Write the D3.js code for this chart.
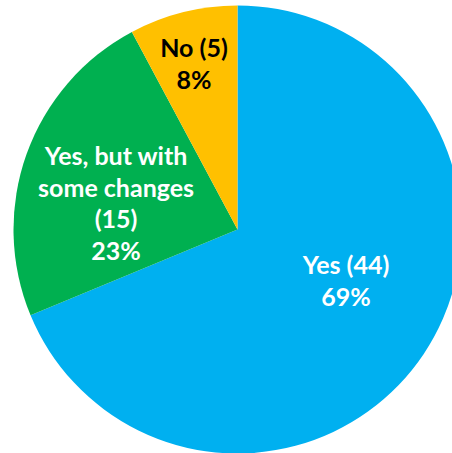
<!DOCTYPE html>
<html>
<head>
<meta charset="utf-8">
<script src="https://cdn.jsdelivr.net/npm/d3@7/dist/d3.min.js"></script>
<style>
  html, body { margin: 0; padding: 0; background: #ffffff; }
  svg { display: block; }
  text { font-family: "Lato", "Open Sans", "Liberation Sans", sans-serif; font-weight: 700; }
</style>
</head>
<body>
<svg id="chart" width="452" height="453"></svg>
<script>
// Survey responses
const categories = ["Yes", "Yes, but with some changes", "No"];
const counts = [44, 15, 5];
// How each category name is broken onto lines inside its slice
const nameLines = [["Yes"], ["Yes, but with", "some changes"], ["No"]];
const colors = ["#00B0F0", "#00B050", "#FFC000"];
const labelColors = ["#ffffff", "#ffffff", "#000000"];

// Label placement: angular shift (degrees) from slice middle, distance as fraction of radius
const labelShift = [-8.25, -7.8, -0.7];
const labelDist = [0.537, 0.554, 0.762];

const W = 452, H = 453;
const cx = 237.5, cy = 229.5, R = 224;
const fontSize = 25, lineH = 31.5;

const svg = d3.select("#chart");
const g = svg.append("g").attr("transform", `translate(${cx},${cy})`);

const total = d3.sum(counts);
const pie = d3.pie().sort(null).value(d => d.count).startAngle(0).endAngle(2 * Math.PI);
const data = categories.map((c, i) => ({ name: c, count: counts[i], i }));
const arcs = pie(data);
const arc = d3.arc().innerRadius(0).outerRadius(R);

g.selectAll("path.slice")
  .data(arcs)
  .join("path")
  .attr("class", "slice")
  .attr("d", arc)
  .attr("fill", d => colors[d.data.i]);

const labels = g.selectAll("text.label")
  .data(arcs)
  .join("text")
  .attr("class", "label")
  .attr("text-anchor", "middle")
  .attr("font-size", fontSize)
  .attr("fill", d => labelColors[d.data.i]);

labels.each(function(d) {
  const i = d.data.i;
  const mid = (d.startAngle + d.endAngle) / 2 + labelShift[i] * Math.PI / 180;
  const r = labelDist[i] * R;
  const x = r * Math.sin(mid);
  const y = -r * Math.cos(mid);
  const lines = nameLines[i].slice();
  const countText = `(${d.data.count})`;
  if (lines.length > 1) lines.push(countText);
  else lines[0] = lines[0] + " " + countText;
  lines.push(d3.format(".0%")(d.data.count / total));
  const n = lines.length;
  const t = d3.select(this);
  lines.forEach((ln, k) => {
    t.append("tspan")
      .attr("x", x)
      .attr("y", y + (k - (n - 1) / 2) * lineH + 0.35 * fontSize)
      .text(ln);
  });
});
</script>
</body>
</html>
